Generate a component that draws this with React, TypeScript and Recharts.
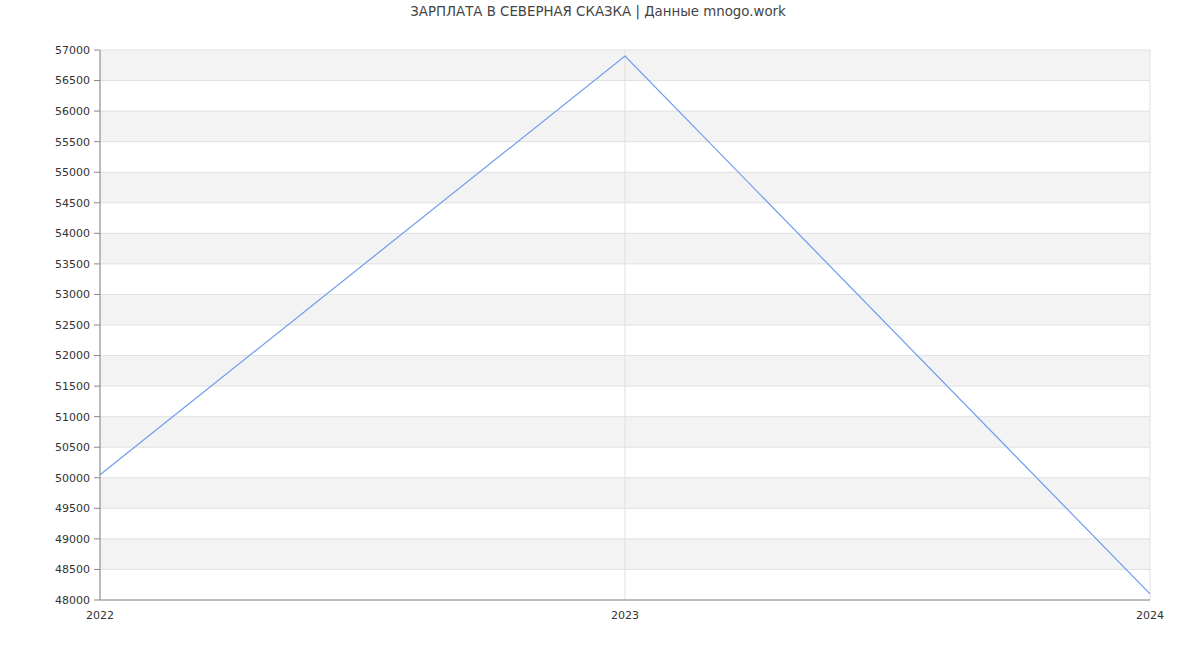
import React from 'react';
import { LineChart, Line, XAxis, YAxis, CartesianGrid } from 'recharts';

const years = ['2022', '2023', '2024'];
const salary = [50050, 56900, 48100];
const yTicks = [
  48000, 48500, 49000, 49500, 50000, 50500, 51000, 51500, 52000, 52500, 53000,
  53500, 54000, 54500, 55000, 55500, 56000, 56500, 57000,
];

const chartData = years.map((year, i) => ({ year, salary: salary[i] }));

const font = 'DejaVu Sans, sans-serif';

export default function App() {
  return (
    <div style={{ position: 'absolute', left: 0, top: 0, width: 1200, height: 650, background: '#fff' }}>
      <div
        style={{
          position: 'absolute',
          top: 4,
          left: 0,
          width: 1196,
          textAlign: 'center',
          fontFamily: font,
          fontSize: 13.35,
          color: '#444',
        }}
      >
        ЗАРПЛАТА В СЕВЕРНАЯ СКАЗКА | Данные mnogo.work
      </div>
      <LineChart
        width={1200}
        height={650}
        data={chartData}
        margin={{ top: 50, right: 50, bottom: 20, left: 0 }}
      >
        <CartesianGrid
          stroke="#e0e0e0"
          horizontalFill={['#f3f3f3', '#ffffff']}
          fillOpacity={1}
        />
        <XAxis
          dataKey="year"
          height={30}
          stroke="#888"
          tickLine={false}
          tick={{ fontSize: 11, fill: '#333', fontFamily: font }}
          tickMargin={5}
        />
        <YAxis
          width={100}
          domain={[48000, 57000]}
          ticks={yTicks}
          interval={0}
          stroke="#888"
          tickSize={6}
          tickMargin={4}
          tick={{ fontSize: 11, fill: '#333', fontFamily: font }}
        />
        <Line
          type="linear"
          dataKey="salary"
          stroke="#6d9bf0"
          strokeWidth={1.2}
          dot={false}
          isAnimationActive={false}
        />
      </LineChart>
    </div>
  );
}
